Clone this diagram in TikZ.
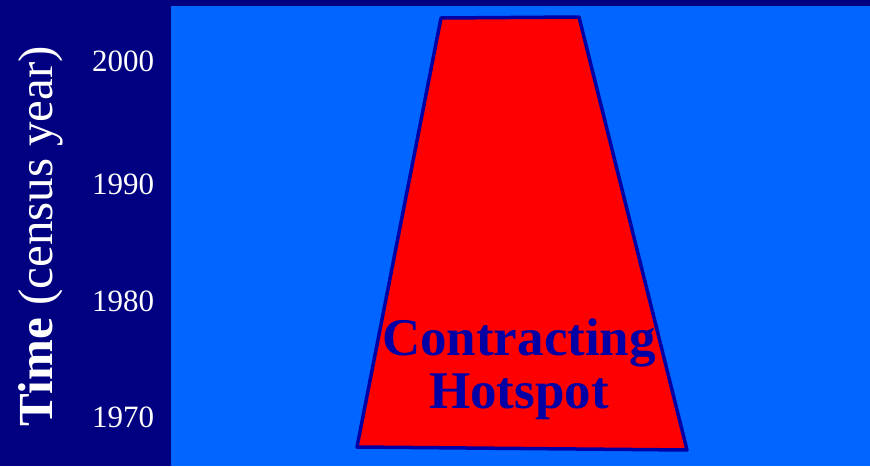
\documentclass[tikz,border=0pt]{standalone}
\usepackage{fontspec}
\setmainfont{Liberation Serif}
\usetikzlibrary{positioning,calc}
\definecolor{navybg}{RGB}{0,0,128}
\definecolor{skyfield}{RGB}{0,102,255}
\definecolor{hotred}{RGB}{255,0,0}
\definecolor{hotline}{RGB}{0,0,165}

\begin{document}
\begin{tikzpicture}[x=1pt, y=-1pt,
    yearlabel/.style={text=white, font=\fontsize{31}{31}\selectfont, anchor=base},
    axislabel/.style={text=white, font=\fontsize{49}{49}\selectfont, rotate=90, anchor=base},
    hotlabel/.style={text=hotline, font=\bfseries\fontsize{53}{53}\selectfont, align=center, anchor=base}]
    % Background
    \fill[navybg] (0,0) rectangle (870,466);
    \useasboundingbox (0,0) rectangle (870,466);
    \fill[skyfield] (171,6) rectangle (870,466);

    % Hotspot trapezoid
    \draw[fill=hotred, draw=hotline, line width=3.5pt, line join=round]
        (441,18) -- (579,17) -- (687,450) -- (357,447) -- cycle;
    \node[hotlabel] (hot) at (519,408) {Contracting\\Hotspot};

    % Year ticks
    \node[yearlabel] (y2000) at (123,71) {2000};
    \node[yearlabel] (y1990) at (123,194) {1990};
    \node[yearlabel] (y1980) at (123,311) {1980};
    \node[yearlabel] (y1970) at (123,427) {1970};

    % Axis title
    \node[axislabel] (axis) at (52,236) {\textbf{Time} (census year)};
\end{tikzpicture}
\end{document}
